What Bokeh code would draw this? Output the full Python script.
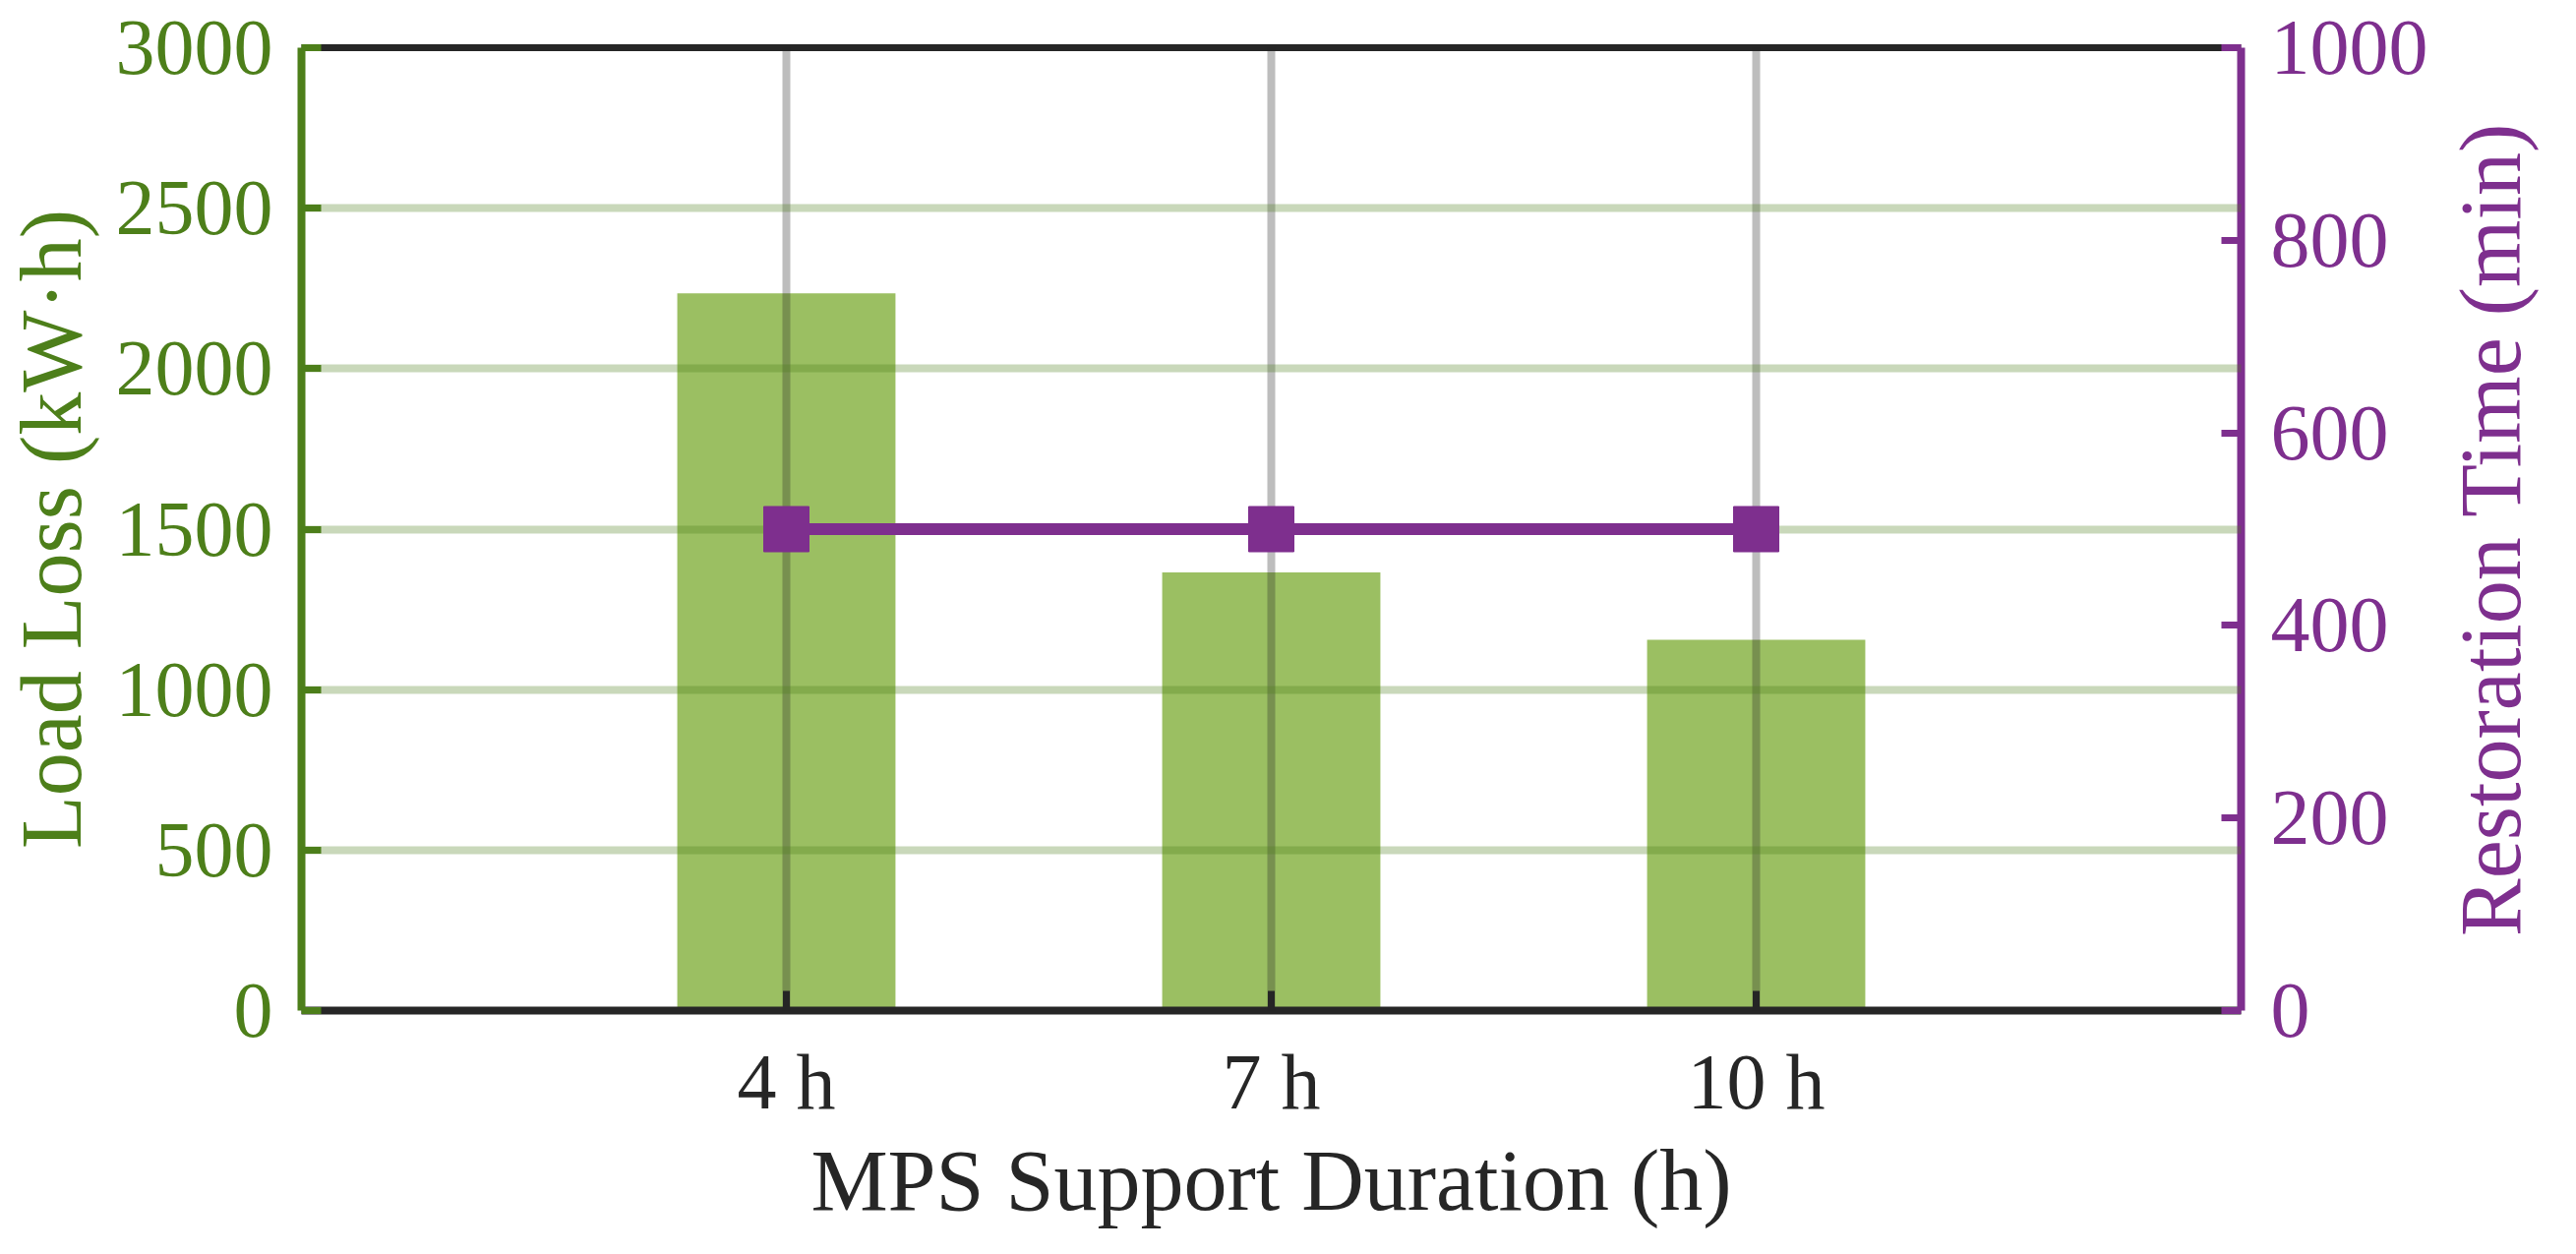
import math

from bokeh.core.properties import value
from bokeh.embed import file_html
from bokeh.layouts import row
from bokeh.models import FixedTicker, LinearAxis, Range1d
from bokeh.plotting import figure
from bokeh.resources import INLINE

# data
durations = ["4 h", "7 h", "10 h"]
load_loss = [2235, 1365, 1155]          # kW·h (left axis)
restoration_time = [500, 500, 500]      # min (right axis)
left_ticks = [0, 500, 1000, 1500, 2000, 2500, 3000]
right_ticks = [0, 200, 400, 600, 800, 1000]

green = "#4d7f1a"
bar_green = "#9bbf62"
purple = "#7e2f8e"
dark = "#262626"
font = "Liberation Serif"

x = list(range(1, len(durations) + 1))

p = figure(width=2478, height=1259,
           x_range=Range1d(0, len(durations) + 1), y_range=Range1d(0, 3000),
           output_backend="svg", toolbar_location=None,
           min_border_left=303, min_border_right=200,
           min_border_top=48, min_border_bottom=232)
p.outline_line_color = None
p.background_fill_color = "white"
p.border_fill_color = "white"
p.extra_y_ranges = {"time": Range1d(0, 1000)}

p.vbar(x=x, top=load_loss, width=0.45, fill_color=bar_green, line_color=None)
ln = p.line(x, restoration_time, y_range_name="time", line_color=purple, line_width=12)
pts = p.scatter(x, restoration_time, y_range_name="time", marker="square",
                size=46, fill_color=purple, line_color=purple)
ln.level = "annotation"
pts.level = "annotation"


def style(ax, color, tick_standoff, label_standoff):
    ax.axis_line_color = color
    ax.axis_line_width = 8
    ax.major_tick_line_color = color
    ax.major_tick_line_width = 7
    ax.major_tick_in = 20
    ax.major_tick_out = 0
    ax.minor_tick_line_color = None
    ax.major_label_text_color = color
    ax.major_label_text_font = font
    ax.major_label_text_font_size = "80px"
    ax.major_label_standoff = tick_standoff
    ax.axis_label_text_color = color
    ax.axis_label_text_font = font
    ax.axis_label_text_font_size = "88px"
    ax.axis_label_text_font_style = "normal"
    ax.axis_label_standoff = label_standoff


# bottom axis
xa = p.xaxis[0]
xa.ticker = FixedTicker(ticks=x)
xa.major_label_overrides = {i: lab for i, lab in zip(x, durations)}
xa.axis_label = "MPS Support Duration (h)"
style(xa, dark, 28, 5)

# left axis
ya = p.yaxis[0]
ya.ticker = FixedTicker(ticks=left_ticks)
ya.axis_label = "Load Loss (kW·h)"
style(ya, green, 29, 14)

# right axis
ra = LinearAxis(y_range_name="time", ticker=FixedTicker(ticks=right_ticks))
style(ra, purple, 30, 14)
p.add_layout(ra, "right")

# top border
ta = LinearAxis(ticker=FixedTicker(ticks=[]))
ta.axis_line_color = dark
ta.axis_line_width = 7
ta.major_tick_line_color = None
ta.minor_tick_line_color = None
ta.major_label_text_color = None
p.add_layout(ta, "above")

# grids drawn above the bars
p.ygrid.ticker = FixedTicker(ticks=left_ticks)
p.ygrid.grid_line_color = green
p.ygrid.grid_line_alpha = 0.3
p.ygrid.grid_line_width = 8
p.ygrid.level = "guide"
p.xgrid.ticker = FixedTicker(ticks=x)
p.xgrid.grid_line_color = dark
p.xgrid.grid_line_alpha = 0.3
p.xgrid.grid_line_width = 8
p.xgrid.level = "guide"

# narrow strip holding the right axis title, reading bottom to top
s = figure(width=108, height=1259, x_range=Range1d(0, 1), y_range=p.y_range,
           output_backend="svg", toolbar_location=None,
           x_axis_location=None, y_axis_location=None,
           min_border_left=0, min_border_right=0,
           min_border_top=48, min_border_bottom=232)
s.outline_line_color = None
s.grid.visible = False
s.text(x=[0.5], y=[1500], text=["Restoration Time (min)"], angle=math.pi / 2,
       text_align="center", text_baseline="middle", text_color=purple,
       text_font=value(font), text_font_size="88px")

layout = row(p, s)
open("out.html", "w").write(file_html(layout, INLINE))
